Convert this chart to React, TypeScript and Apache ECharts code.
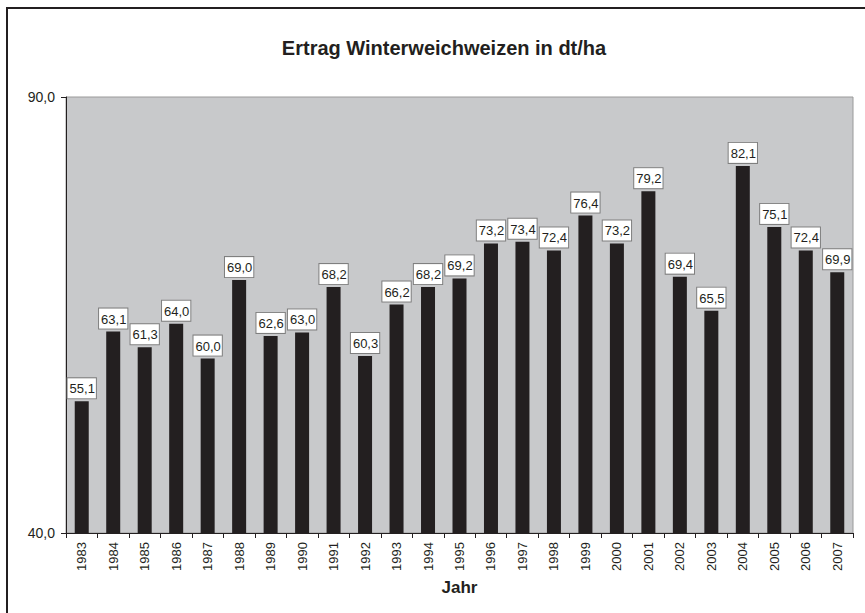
import React, { useEffect, useRef } from "react";
import * as echarts from "echarts";

const titleText = "Ertrag Winterweichweizen in dt/ha";
const axisName = "Jahr";
const years = [
  "1983", "1984", "1985", "1986", "1987", "1988", "1989", "1990", "1991", "1992",
  "1993", "1994", "1995", "1996", "1997", "1998", "1999", "2000", "2001", "2002",
  "2003", "2004", "2005", "2006", "2007",
];
const yields = [
  55.1, 63.1, 61.3, 64.0, 60.0, 69.0, 62.6, 63.0, 68.2, 60.3,
  66.2, 68.2, 69.2, 73.2, 73.4, 72.4, 76.4, 73.2, 79.2, 69.4,
  65.5, 82.1, 75.1, 72.4, 69.9,
];
const yMin = 40;
const yMax = 90;

const fmt = (v: number) => v.toFixed(1).replace(".", ",");

export default function App() {
  const ref = useRef<HTMLDivElement>(null);
  useEffect(() => {
    if (!ref.current) return;
    const chart = echarts.init(ref.current, null, { renderer: "svg" });
    const font = "'Liberation Sans', Arial, sans-serif";
    chart.setOption({
      animation: false,
      backgroundColor: "#ffffff",
      textStyle: { fontFamily: font },
      title: {
        text: titleText,
        left: 439,
        top: 33,
        textAlign: "center",
        textStyle: { fontFamily: font, fontSize: 20, fontWeight: "bold", color: "#231F20" },
      },
      graphic: [
        {
          type: "polyline",
          shape: { points: [[7, 613], [7, 8], [865, 8]] },
          style: { stroke: "#231F20", lineWidth: 2, fill: "none" },
          silent: true,
        },
      ],
      grid: {
        left: 66,
        right: 12,
        top: 97,
        bottom: 80,
        show: true,
        backgroundColor: "#C8C9CB",
        borderColor: "#9A9A9A",
        borderWidth: 1,
      },
      xAxis: {
        type: "category",
        data: years,
        name: axisName,
        nameLocation: "middle",
        nameGap: 45,
        nameTextStyle: { fontFamily: font, fontSize: 17, fontWeight: "bold", color: "#231F20" },
        axisLine: { show: true, lineStyle: { color: "#231F20", width: 1 } },
        axisTick: { show: true, alignWithLabel: false, length: 5, lineStyle: { color: "#231F20" } },
        axisLabel: {
          rotate: 90,
          margin: 9,
          fontSize: 13,
          color: "#231F20",
          fontFamily: font,
          interval: 0,
        },
      },
      yAxis: {
        type: "value",
        min: yMin,
        max: yMax,
        interval: yMax - yMin,
        axisLine: { show: true, lineStyle: { color: "#231F20", width: 1 } },
        axisTick: { show: true, length: 5, lineStyle: { color: "#231F20" } },
        splitLine: { show: false },
        axisLabel: {
          fontSize: 14,
          color: "#231F20",
          fontFamily: font,
          margin: 11,
          formatter: (v: number) => fmt(v),
        },
      },
      series: [
        {
          type: "bar",
          data: yields,
          barWidth: 14,
          itemStyle: { color: "#231F20" },
          label: {
            show: true,
            position: "top",
            distance: 3,
            formatter: (p: any) => fmt(p.value),
            fontSize: 13,
            fontFamily: font,
            color: "#231F20",
            backgroundColor: "#ffffff",
            borderColor: "#7F7F7F",
            borderWidth: 1,
            padding: [4, 1, 3, 2],
          },
        },
      ],
    });
    return () => chart.dispose();
  }, []);
  return (
    <div
      ref={ref}
      style={{ position: "fixed", left: 0, top: 0, width: 865, height: 613 }}
    />
  );
}
